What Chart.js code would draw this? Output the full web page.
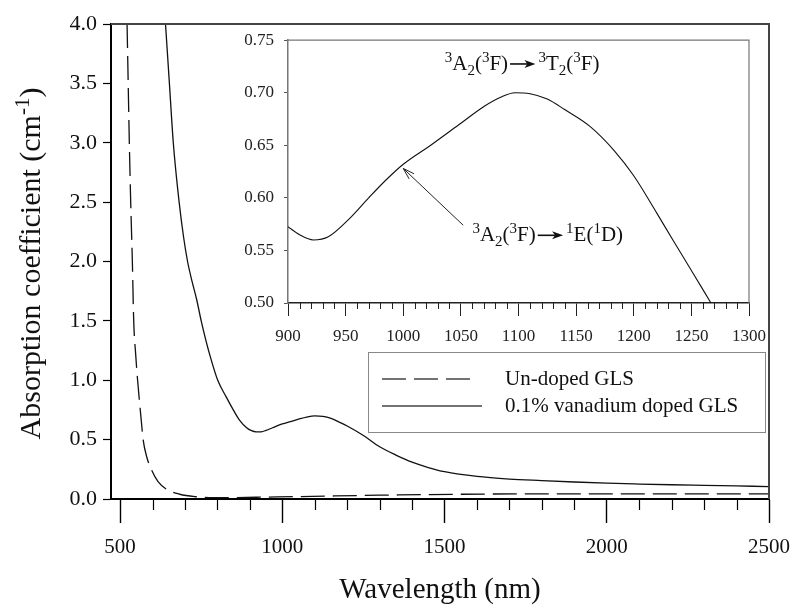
<!DOCTYPE html>
<html>
<head>
<meta charset="utf-8">
<script src="https://cdn.jsdelivr.net/npm/chart.js@4.4.0/dist/chart.umd.min.js"></script>
<style>
  html, body { margin: 0; padding: 0; background: #fff; }
  #wrap { position: relative; width: 793px; height: 608px; }
  #mainChart { position: absolute; left: 0; top: 0; }
  #insetChart { position: absolute; left: 200px; top: 20px; }
</style>
</head>
<body>
<div id="wrap">
  <canvas id="mainChart" width="793" height="608"></canvas>
  <canvas id="insetChart" width="575" height="340"></canvas>
</div>
<script>
// --- Data ---
const seriesLabels = ["Un-doped GLS", "0.1% vanadium doped GLS"];

const undopedWl  = [521.5, 525, 528.5, 532.7, 537.8, 542, 548, 554, 566, 571, 582, 597, 617, 643, 684, 735, 786, 848, 950, 1050, 1300, 1760, 2000, 2500];
const undopedAbs = [4.0, 3.5, 3.0, 2.5, 2.0, 1.5, 1.22, 1.0, 0.64, 0.5, 0.356, 0.245, 0.146, 0.082, 0.04, 0.019, 0.011, 0.012, 0.016, 0.02, 0.032, 0.043, 0.043, 0.043];

const dopedWl  = [640, 652, 664, 682, 696, 708, 722, 736, 750, 765, 780, 801, 827, 848, 868, 890, 905, 919, 935, 950, 970, 1000, 1025, 1050, 1075, 1100, 1125, 1150, 1175, 1200, 1250, 1300, 1350, 1400, 1450, 1500, 1600, 1700, 1800, 1900, 2000, 2100, 2200, 2300, 2400, 2500];
const dopedAbs = [4.0, 3.5, 3.0, 2.5, 2.2, 2.0, 1.83, 1.68, 1.5, 1.33, 1.18, 1.0, 0.86, 0.755, 0.665, 0.6, 0.575, 0.565, 0.566, 0.578, 0.6, 0.632, 0.652, 0.672, 0.69, 0.70, 0.695, 0.678, 0.648, 0.615, 0.535, 0.44, 0.37, 0.31, 0.265, 0.23, 0.19, 0.168, 0.155, 0.143, 0.133, 0.126, 0.12, 0.115, 0.11, 0.105];

// inset (zoom of the doped curve)
const insetWl  = [900, 910, 922, 935, 954, 970, 985, 1000, 1025, 1050, 1070, 1085, 1097, 1110, 1125, 1140, 1162, 1183, 1200, 1220, 1235, 1250, 1267];
const insetAbs = [0.5725, 0.565, 0.560, 0.563, 0.581, 0.600, 0.617, 0.632, 0.651, 0.671, 0.687, 0.696, 0.700, 0.699, 0.694, 0.684, 0.668, 0.645, 0.621, 0.5855, 0.558, 0.531, 0.500];

const xMajorTicks = [500, 1000, 1500, 2000, 2500];
const yMajorTicks = [0, 0.5, 1.0, 1.5, 2.0, 2.5, 3.0, 3.5, 4.0];
const insetXTicks = [900, 950, 1000, 1050, 1100, 1150, 1200, 1250, 1300];
const insetYTicks = [0.50, 0.55, 0.60, 0.65, 0.70, 0.75];

// annotation anchors, in inset data units
const bandLabels = [
  { parts: [["3","sup"],["A"],["2","sub"],["("],["3","sup"],["F)"],["","arrow"],["3","sup"],["T"],["2","sub"],["("],["3","sup"],["F)"]], x: 1036, y: 0.722 },
  { parts: [["3","sup"],["A"],["2","sub"],["("],["3","sup"],["F)"],["","arrow"],["1","sup"],["E"],["("],["1","sup"],["D)"]], x: 1060, y: 0.559,
    pointer: { from: [1052, 0.574], to: [1000, 0.628] } }
];

const SERIF = "'Liberation Serif', 'Times New Roman', Times, serif";

function pts(xs, ys) { return xs.map((x, i) => ({ x, y: ys[i] })); }

// rich text with super/subscripts and a drawn arrow
function drawRich(ctx, parts, x, y, size, measureOnly) {
  const small = Math.round(size * 0.7);
  let cx = x;
  parts.forEach(([t, kind]) => {
    if (kind === "arrow") {
      const w = size * 1.35;
      if (!measureOnly) {
        const my = y - size * 0.27;
        ctx.save();
        ctx.strokeStyle = "#111"; ctx.fillStyle = "#111"; ctx.lineWidth = 1.6;
        ctx.beginPath(); ctx.moveTo(cx + 2, my); ctx.lineTo(cx + w - 8, my); ctx.stroke();
        ctx.beginPath(); ctx.moveTo(cx + w - 1, my); ctx.lineTo(cx + w - 12, my - 4); ctx.lineTo(cx + w - 9, my); ctx.lineTo(cx + w - 12, my + 4); ctx.closePath(); ctx.fill();
        ctx.restore();
      }
      cx += w + 2;
      return;
    }
    const sz = kind ? small : size;
    ctx.font = sz + "px " + SERIF;
    const dy = kind === "sup" ? -size * 0.36 : kind === "sub" ? size * 0.24 : 0;
    if (!measureOnly) ctx.fillText(t, cx, y + dy);
    cx += ctx.measureText(t).width;
  });
  return cx - x;
}

function minorTicks(ctx, scale, from, to, step, len, skip) {
  ctx.beginPath();
  for (let v = from; v <= to + 1e-9; v += step) {
    if (skip.some(s => Math.abs(s - v) < 1e-6)) continue;
    const px = Math.round(scale.getPixelForValue(v)) + 0.5;
    ctx.moveTo(px, scale.top); ctx.lineTo(px, scale.top + len);
  }
  ctx.stroke();
}

// keep the plot box where the layout padding puts it
function noLabelOverflow(s) { s.paddingLeft = 0; s.paddingRight = 0; }

const mainDecor = {
  id: "mainDecor",
  afterDraw(chart) {
    const { ctx, chartArea: a, scales } = chart;
    ctx.save();
    // frame top + right
    ctx.strokeStyle = "#444"; ctx.lineWidth = 2;
    ctx.beginPath(); ctx.moveTo(a.left, a.top); ctx.lineTo(a.right, a.top); ctx.lineTo(a.right, a.bottom); ctx.stroke();
    // minor x ticks
    ctx.strokeStyle = "#000"; ctx.lineWidth = 1.2;
    minorTicks(ctx, scales.x, 500, 2500, 100, 11, xMajorTicks);

    // legend
    ctx.strokeStyle = "#888"; ctx.lineWidth = 1;
    ctx.strokeRect(368.5, 352.5, 397, 80);
    ctx.fillStyle = "#111"; ctx.textBaseline = "middle";
    ctx.font = "21px " + SERIF;
    chart.data.datasets.forEach((ds, i) => {
      const ly = 379 + i * 27;
      ctx.strokeStyle = "#444"; ctx.lineWidth = 1.3;
      ctx.setLineDash(ds.borderDash || []);
      ctx.beginPath(); ctx.moveTo(382, ly); ctx.lineTo(i ? 482 : 474, ly); ctx.stroke();
      ctx.setLineDash([]);
      ctx.fillText(ds.label, 505, ly);
    });

    // y title with superscript
    ctx.textBaseline = "alphabetic";
    const yParts = [["Absorption coefficient (cm"], ["-1", "sup"], [")"]];
    ctx.translate(40, (a.top + a.bottom) / 2 + 2);
    ctx.rotate(-Math.PI / 2);
    const w = drawRich(ctx, yParts, 0, 0, 30, true);
    drawRich(ctx, yParts, -w / 2, 0, 30, false);
    ctx.restore();
  }
};

new Chart(document.getElementById("mainChart"), {
  type: "scatter",
  data: {
    datasets: [
      { label: seriesLabels[0], data: pts(undopedWl, undopedAbs), showLine: true, borderColor: "#111", borderWidth: 1.3,
        borderDash: [24, 8], pointRadius: 0, cubicInterpolationMode: "monotone" },
      { label: seriesLabels[1], data: pts(dopedWl, dopedAbs), showLine: true, borderColor: "#111", borderWidth: 1.3,
        pointRadius: 0, cubicInterpolationMode: "monotone" }
    ]
  },
  options: {
    responsive: false, animation: false, events: [],
    layout: { padding: { top: 24, right: 24, left: 0, bottom: 0 } },
    plugins: { legend: { display: false }, tooltip: { enabled: false } },
    scales: {
      x: {
        type: "linear", min: 472, max: 2500,
        afterBuildTicks: s => { s.ticks = xMajorTicks.map(v => ({ value: v })); },
        afterFit: s => { s.height = 109; noLabelOverflow(s); },
        grid: { drawOnChartArea: false, tickLength: 24, tickColor: "#000", tickWidth: 1.4 },
        border: { color: "#000", width: 2 },
        ticks: { font: { family: SERIF, size: 21 }, color: "#111", padding: 12, maxRotation: 0, autoSkip: false,
          callback: v => String(v) },
        title: { display: true, text: "Wavelength (nm)", font: { family: SERIF, size: 29 }, color: "#111",
          padding: { top: 0, bottom: 0 } }
      },
      y: {
        min: 0, max: 4,
        afterBuildTicks: s => { s.ticks = yMajorTicks.map(v => ({ value: v })); },
        afterFit: s => { s.width = 111; },
        grid: { drawOnChartArea: false, tickLength: 8, tickColor: "#000", tickWidth: 1.2 },
        border: { color: "#000", width: 2 },
        ticks: { font: { family: SERIF, size: 22 }, color: "#111", padding: 6, callback: v => v.toFixed(1) }
      }
    }
  },
  plugins: [mainDecor]
});

const insetDecor = {
  id: "insetDecor",
  afterDraw(chart) {
    const { ctx, chartArea: a, scales } = chart;
    const sx = scales.x, sy = scales.y;
    ctx.save();
    ctx.strokeStyle = "#777"; ctx.lineWidth = 1.2;
    ctx.beginPath(); ctx.moveTo(a.left, a.top); ctx.lineTo(a.right, a.top); ctx.lineTo(a.right, a.bottom); ctx.stroke();
    ctx.strokeStyle = "#222"; ctx.lineWidth = 1;
    minorTicks(ctx, sx, 900, 1300, 10, 6, insetXTicks);

    ctx.fillStyle = "#111"; ctx.textBaseline = "alphabetic";
    bandLabels.forEach(b => {
      drawRich(ctx, b.parts, sx.getPixelForValue(b.x), sy.getPixelForValue(b.y), 21, false);
      if (b.pointer) {
        const x1 = sx.getPixelForValue(b.pointer.from[0]), y1 = sy.getPixelForValue(b.pointer.from[1]);
        const x2 = sx.getPixelForValue(b.pointer.to[0]), y2 = sy.getPixelForValue(b.pointer.to[1]);
        const ang = Math.atan2(y2 - y1, x2 - x1);
        ctx.strokeStyle = "#222"; ctx.lineWidth = 1;
        ctx.beginPath(); ctx.moveTo(x1, y1); ctx.lineTo(x2, y2);
        ctx.moveTo(x2 - 12 * Math.cos(ang - 0.3), y2 - 12 * Math.sin(ang - 0.3));
        ctx.lineTo(x2, y2);
        ctx.lineTo(x2 - 12 * Math.cos(ang + 0.3), y2 - 12 * Math.sin(ang + 0.3));
        ctx.stroke();
      }
    });
    ctx.restore();
  }
};

new Chart(document.getElementById("insetChart"), {
  type: "scatter",
  data: {
    datasets: [
      { data: pts(insetWl, insetAbs), showLine: true, borderColor: "#111", borderWidth: 1.1, pointRadius: 0,
        cubicInterpolationMode: "monotone" }
    ]
  },
  options: {
    responsive: false, animation: false, events: [],
    layout: { padding: { top: 17, right: 26, left: 0, bottom: 0 } },
    plugins: { legend: { display: false }, tooltip: { enabled: false } },
    scales: {
      x: {
        type: "linear", min: 900, max: 1300,
        afterBuildTicks: s => { s.ticks = insetXTicks.map(v => ({ value: v })); },
        afterFit: s => { s.height = 57; noLabelOverflow(s); },
        grid: { drawOnChartArea: false, tickLength: 13, tickColor: "#222", tickWidth: 1 },
        border: { color: "#222", width: 1.5 },
        ticks: { font: { family: SERIF, size: 17 }, color: "#222", padding: 10, maxRotation: 0, autoSkip: false,
          callback: v => String(v) }
      },
      y: {
        min: 0.5, max: 0.75,
        afterBuildTicks: s => { s.ticks = insetYTicks.map(v => ({ value: v })); },
        afterFit: s => { s.width = 88; },
        grid: { drawOnChartArea: false, tickLength: 4, tickColor: "#555", tickWidth: 1 },
        border: { color: "#777", width: 1.5 },
        ticks: { font: { family: SERIF, size: 17 }, color: "#222", padding: 10, callback: v => v.toFixed(2) }
      }
    }
  },
  plugins: [insetDecor]
});
</script>
</body>
</html>
